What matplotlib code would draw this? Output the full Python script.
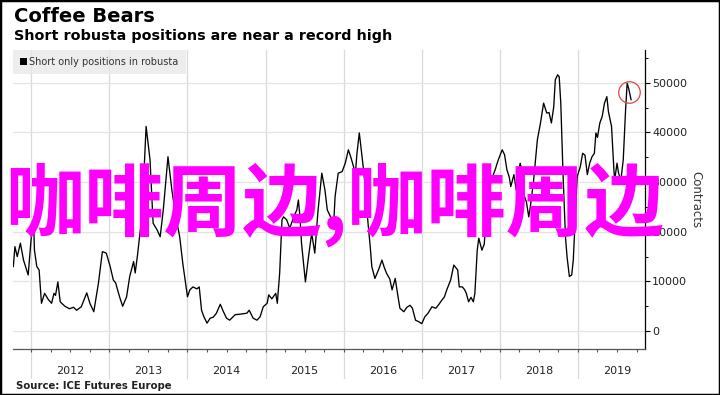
import numpy as np
import matplotlib
matplotlib.use('Agg')
import matplotlib.pyplot as plt
from matplotlib.ticker import MultipleLocator, FixedLocator, FixedFormatter, NullFormatter
from matplotlib.patches import Patch, Rectangle

# weekly short-only positions in robusta (contracts)
dates = [2011.77, 2011.79, 2011.82, 2011.86, 2011.90, 2011.96, 2012.00, 2012.03, 2012.04, 2012.07,
         2012.10, 2012.13, 2012.17, 2012.22, 2012.26, 2012.29, 2012.31, 2012.34, 2012.37, 2012.43,
         2012.49, 2012.54, 2012.58, 2012.64, 2012.71, 2012.75, 2012.80, 2012.86, 2012.91, 2012.96,
         2013.01, 2013.05, 2013.08, 2013.13, 2013.17, 2013.22, 2013.26, 2013.31, 2013.33, 2013.36,
         2013.41, 2013.44, 2013.47, 2013.52, 2013.56, 2013.61, 2013.65, 2013.69, 2013.75, 2013.80,
         2013.85, 2013.90, 2013.94, 2013.97, 2014.00, 2014.03, 2014.07, 2014.12, 2014.15, 2014.18,
         2014.21, 2014.25, 2014.29, 2014.33, 2014.37, 2014.42, 2014.46, 2014.50, 2014.54, 2014.61,
         2014.67, 2014.76, 2014.79, 2014.84, 2014.89, 2014.93, 2014.97, 2015.02, 2015.04, 2015.08,
         2015.13, 2015.15, 2015.18, 2015.21, 2015.23, 2015.27, 2015.31, 2015.36, 2015.40, 2015.42,
         2015.44, 2015.46, 2015.51, 2015.55, 2015.59, 2015.63, 2015.67, 2015.72, 2015.76, 2015.79,
         2015.85, 2015.87, 2015.89, 2015.93, 2015.98, 2016.02, 2016.06, 2016.09, 2016.15, 2016.17,
         2016.20, 2016.25, 2016.28, 2016.31, 2016.34, 2016.36, 2016.40, 2016.45, 2016.49, 2016.52,
         2016.55, 2016.59, 2016.62, 2016.66, 2016.69, 2016.72, 2016.77, 2016.81, 2016.85, 2016.88,
         2016.92, 2016.96, 2017.00, 2017.04, 2017.08, 2017.13, 2017.18, 2017.22, 2017.26, 2017.29,
         2017.32, 2017.37, 2017.41, 2017.46, 2017.48, 2017.52, 2017.55, 2017.57, 2017.60, 2017.63,
         2017.66, 2017.68, 2017.71, 2017.73, 2017.77, 2017.80, 2017.83, 2017.87, 2017.90, 2017.94,
         2017.98, 2018.03, 2018.06, 2018.09, 2018.12, 2018.14, 2018.18, 2018.21, 2018.24, 2018.26,
         2018.28, 2018.30, 2018.34, 2018.37, 2018.39, 2018.43, 2018.48, 2018.52, 2018.56, 2018.60,
         2018.63, 2018.66, 2018.69, 2018.71, 2018.74, 2018.76, 2018.78, 2018.81, 2018.84, 2018.86,
         2018.89, 2018.92, 2018.94, 2018.96, 2018.99, 2019.03, 2019.06, 2019.09, 2019.12, 2019.15,
         2019.18, 2019.21, 2019.23, 2019.25, 2019.28, 2019.31, 2019.34, 2019.37, 2019.39, 2019.43,
         2019.46, 2019.47, 2019.50, 2019.52, 2019.55, 2019.58, 2019.61, 2019.63, 2019.65, 2019.68]
shorts_k = [13.0, 17.0, 15.0, 17.7, 14.3, 11.3, 19.0, 21.5, 16.3, 13.0,
            12.3, 5.6, 7.6, 6.3, 5.6, 7.6, 7.2, 9.9, 5.9, 5.0,
            4.5, 4.8, 4.2, 4.9, 7.7, 5.6, 3.9, 9.7, 16.0, 15.7,
            13.0, 10.3, 9.7, 6.9, 5.0, 6.9, 11.0, 14.0, 11.7, 15.3,
            22.4, 31.0, 41.2, 34.5, 21.7, 20.4, 19.0, 24.4, 35.1, 28.4,
            23.0, 19.0, 13.6, 10.3, 6.9, 8.3, 8.9, 8.5, 8.9, 4.2,
            2.9, 1.6, 2.6, 2.8, 3.6, 5.4, 3.9, 2.6, 2.2, 3.3,
            3.4, 3.6, 4.2, 2.6, 2.2, 2.9, 4.9, 5.6, 7.3, 6.5,
            7.6, 5.6, 11.6, 22.4, 23.0, 22.4, 20.7, 23.0, 24.4, 26.4,
            23.0, 17.7, 9.9, 15.0, 19.7, 15.7, 24.0, 31.8, 28.4, 24.4,
            22.4, 21.0, 27.1, 31.8, 32.1, 33.8, 36.5, 35.1, 31.8, 35.8,
            39.9, 33.1, 28.4, 22.0, 17.0, 13.0, 10.6, 12.5, 14.3, 12.8,
            11.6, 10.5, 8.3, 10.6, 7.5, 4.6, 3.9, 4.8, 5.2, 4.6,
            2.2, 1.9, 1.5, 2.9, 3.6, 4.9, 4.6, 5.4, 6.3, 6.9,
            8.3, 10.3, 13.3, 12.3, 8.9, 8.9, 8.3, 7.6, 5.9, 6.8,
            5.9, 7.6, 16.3, 18.7, 16.3, 17.5, 24.0, 29.0, 30.8, 32.5,
            34.5, 36.5, 35.5, 32.5, 31.0, 29.1, 31.5, 28.4, 32.5, 33.8,
            32.5, 27.8, 26.0, 23.0, 25.0, 30.0, 38.5, 41.9, 45.9, 43.9,
            44.0, 41.9, 45.2, 50.6, 51.6, 51.2, 45.9, 31.1, 19.0, 15.0,
            11.0, 11.3, 14.3, 21.0, 31.1, 33.1, 35.8, 35.4, 31.5, 33.8,
            35.1, 35.8, 39.9, 39.0, 41.9, 43.2, 45.9, 47.2, 44.2, 41.2,
            32.5, 30.4, 33.8, 31.8, 30.4, 34.5, 44.6, 49.9, 48.8, 46.6]
shorts = np.array(shorts_k) * 1000

years = [2012, 2013, 2014, 2015, 2016, 2017, 2018, 2019]
yticks = [0, 10000, 20000, 30000, 40000, 50000]
highlight_date, highlight_val = 2019.65, 48100

fig = plt.figure(figsize=(7.2, 3.95), dpi=100)
ax = fig.add_axes([0.018, 0.1165, 0.878, 0.757])

ax.set_xlim(2011.765, 2019.86)
ax.set_ylim(-3600, 56600)

for yr in years:
    ax.axvline(yr, ymin=-0.097, ymax=1, color='#d9d9d9', lw=0.9, clip_on=False, zorder=0)
for v in yticks:
    ax.axhline(v, color='#e3e3e3', lw=0.9, zorder=0)

ax.plot(dates, shorts, color='black', lw=0.95, zorder=3)
ax.plot([highlight_date], [highlight_val], marker='o', ms=15.5, mfc='none',
        mec='#e04646', mew=0.9, zorder=4)

for side in ['left', 'top']:
    ax.spines[side].set_visible(False)
ax.spines['bottom'].set_color('#555555')
ax.spines['right'].set_color('black')
ax.spines['bottom'].set_linewidth(0.9)
ax.spines['right'].set_linewidth(0.9)

# quarter ticks on the axis, year labels centred between the year lines
ax.xaxis.remove_overlapping_locs = False
ax.xaxis.set_major_locator(MultipleLocator(0.25))
ax.xaxis.set_major_formatter(NullFormatter())
ax.xaxis.set_minor_locator(FixedLocator([y + 0.5 for y in years]))
ax.xaxis.set_minor_formatter(FixedFormatter([str(y) for y in years]))
ax.tick_params(axis='x', which='major', length=2.5, color='#555555', width=0.8)
ax.tick_params(axis='x', which='minor', length=0, pad=12, labelsize=8, labelcolor='#222222')

ax.yaxis.tick_right()
ax.yaxis.set_label_position('right')
ax.set_yticks(yticks)
ax.set_yticklabels([str(v) for v in yticks])
ax.yaxis.set_minor_locator(MultipleLocator(5000))
ax.tick_params(axis='y', which='major', length=3.5, width=0.8, pad=1.5, labelsize=8, labelcolor='#222222')
ax.tick_params(axis='y', which='minor', length=2, width=0.7)
ax.set_ylabel('Contracts', rotation=270, fontsize=8.5, color='#333333', labelpad=11)

leg = ax.legend(handles=[Patch(facecolor='black', label='Short only positions in robusta')],
                loc='upper left', bbox_to_anchor=(0, 1), borderaxespad=0,
                fontsize=7, handlelength=0.7, handleheight=0.7, handletextpad=0.3,
                frameon=True, fancybox=False, facecolor='#e8e8e8', edgecolor='none',
                framealpha=0.75, borderpad=0.7)
for t in leg.get_texts():
    t.set_color('#333333')

fig.text(0.019, 0.957, 'Coffee Bears', fontsize=14, fontweight='bold', va='center', ha='left')
fig.text(0.019, 0.908, 'Short robusta positions are near a record high', fontsize=10.4,
         fontweight='bold', va='center', ha='left')
fig.text(0.022, 0.023, 'Source: ICE Futures Europe', fontsize=7.3, fontweight='bold',
         va='center', ha='left', color='#222222')

fig.text(0.465, 0.481, '咖啡周边,咖啡周边', fontsize=57, color='#ff00ff', fontweight='bold',
         ha='center', va='center', family=['Noto Sans CJK SC', 'DejaVu Sans'], zorder=10)

fig.patches.append(Rectangle((0, 0), 1, 1, transform=fig.transFigure, fill=False,
                             edgecolor='black', lw=2.5))

fig.savefig('out.png', dpi=100)
